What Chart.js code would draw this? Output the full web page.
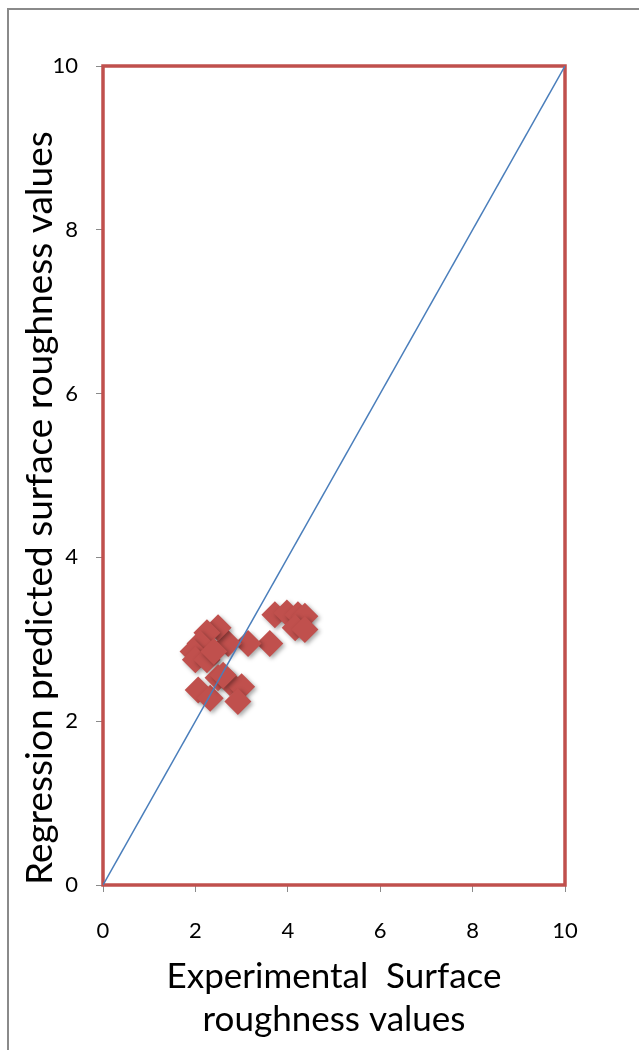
<!DOCTYPE html>
<html>
<head>
<meta charset="utf-8">
<script src="https://cdn.jsdelivr.net/npm/chart.js@4/dist/chart.umd.min.js"></script>
<style>
html,body{margin:0;padding:0;background:#fff;}
canvas{display:block;}
</style>
</head>
<body>
<canvas id="c" width="639" height="1050"></canvas>
<script>
// Experimental (x) vs regression-predicted (y) surface roughness
const experimental = [3.72, 3.98, 4.22, 4.37, 4.16, 4.37, 3.61, 3.14, 2.71, 2.49, 2.25, 2.10, 1.95, 2.00, 2.25, 2.40, 2.06, 2.32, 2.49, 2.75, 3.00, 2.92, 2.60];
const predicted    = [3.30, 3.32, 3.30, 3.28, 3.14, 3.12, 2.95, 2.95, 2.95, 3.14, 3.08, 2.95, 2.85, 2.75, 2.75, 2.85, 2.38, 2.28, 2.53, 2.47, 2.42, 2.24, 2.56];
const refLineX = [0, 10];
const refLineY = [0, 10];
const xTitle = ['Experimental  Surface', 'roughness values'];
const yTitle = 'Regression predicted surface roughness values';

const FONT = 'Lato, "Open Sans", sans-serif';

const frame = {
  id: 'frame',
  beforeDraw(chart) {
    const ctx = chart.ctx;
    ctx.save();
    ctx.fillStyle = '#fff';
    ctx.fillRect(0, 0, chart.width, chart.height);
    ctx.strokeStyle = '#8a8a8a';
    ctx.lineWidth = 2;
    ctx.strokeRect(8, 9, chart.width + 20, chart.height + 20);
    ctx.restore();
  },
  beforeDatasetsDraw(chart) {
    const a = chart.chartArea, ctx = chart.ctx;
    ctx.save();
    ctx.strokeStyle = '#C0504D';
    ctx.lineWidth = 3.5;
    ctx.strokeRect(a.left, a.top, a.right - a.left, a.bottom - a.top);
    ctx.restore();
  },
  beforeDatasetDraw(chart, args) {
    if (args.index === 0) {
      const ctx = chart.ctx;
      ctx.save();
      ctx.shadowColor = 'rgba(0,0,0,0.35)';
      ctx.shadowBlur = 4;
      ctx.shadowOffsetX = 2;
      ctx.shadowOffsetY = 2;
    }
  },
  afterDatasetDraw(chart, args) {
    if (args.index === 0) chart.ctx.restore();
  }
};

new Chart(document.getElementById('c'), {
  type: 'scatter',
  data: {
    datasets: [
      {
        label: 'Predicted',
        data: experimental.map((x, i) => ({x, y: predicted[i]})),
        pointStyle: 'rectRot',
        pointRadius: 13.5,
        pointHoverRadius: 13.5,
        backgroundColor: '#C0504D',
        borderColor: '#C0504D',
        borderWidth: 0,
        order: 2
      },
      {
        type: 'line',
        label: 'Reference',
        data: refLineX.map((x, i) => ({x, y: refLineY[i]})),
        borderColor: '#4A7EBB',
        borderWidth: 1.5,
        pointRadius: 0,
        fill: false,
        order: 1
      }
    ]
  },
  options: {
    responsive: false,
    animation: false,
    events: [],
    layout: { padding: { top: 66, right: 74, left: 0, bottom: 0 } },
    plugins: { legend: { display: false }, tooltip: { enabled: false } },
    scales: {
      x: {
        type: 'linear', min: 0, max: 10,
        afterFit(s) { s.height = 165; },
        border: { display: true, color: '#8a8a8a', width: 1 },
        grid: { drawOnChartArea: false, drawTicks: true, tickLength: 7, tickColor: '#8a8a8a' },
        ticks: { stepSize: 2, padding: 26, color: '#000', font: { family: FONT, size: 22 } },
        title: { display: true, text: xTitle, color: '#000', padding: { top: 0, bottom: 9 },
                 font: { family: FONT, size: 35, lineHeight: 1.23 } }
      },
      y: {
        type: 'linear', min: 0, max: 10,
        afterFit(s) { s.width = 103; },
        border: { display: true, color: '#8a8a8a', width: 1 },
        grid: { drawOnChartArea: false, drawTicks: true, tickLength: 7, tickColor: '#8a8a8a' },
        ticks: { stepSize: 2, padding: 18, color: '#000', font: { family: FONT, size: 22 } },
        title: { display: true, text: yTitle, color: '#000', align: 'start', padding: { top: 18, bottom: 0 },
                 font: { family: FONT, size: 37, lineHeight: 1.2 } }
      }
    }
  },
  plugins: [frame]
});
</script>
</body>
</html>
